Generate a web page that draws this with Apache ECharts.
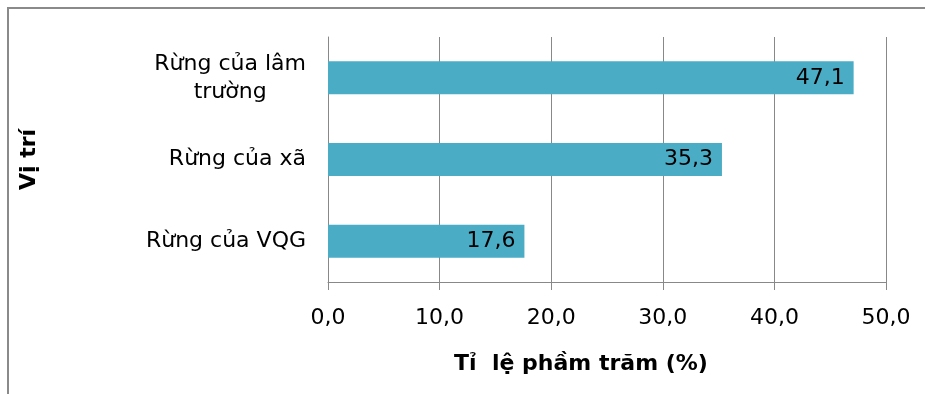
<!DOCTYPE html>
<html>
<head>
<meta charset="utf-8">
<script src="https://cdn.jsdelivr.net/npm/echarts@6/dist/echarts.min.js"></script>
<style>
  html, body { margin: 0; padding: 0; background: #fff; }
  #chart { width: 925px; height: 394px; }
</style>
</head>
<body>
<div id="chart"></div>
<script>
// Forest locations (top to bottom) and their share in percent
const categories = ['Rừng của lâm\ntrường', 'Rừng của xã', 'Rừng của VQG'];
const values = [47.1, 35.3, 17.6];
const xTicks = { min: 0, max: 50, interval: 10 };

const FONT = '"DejaVu Sans", Verdana, sans-serif';
const SIZE = 22;
const GRID = '#888888';

const fmtComma = (v, d) => Number(v).toFixed(d).replace('.', ',');

const chart = echarts.init(document.getElementById('chart'), null, { renderer: 'canvas' });

chart.setOption({
  animation: false,
  backgroundColor: '#ffffff',
  textStyle: { fontFamily: FONT },
  graphic: [{
    type: 'rect',
    shape: { x: 8, y: 8, width: 1000, height: 500 },
    style: { fill: 'none', stroke: '#8a8a8a', lineWidth: 2 },
    silent: true,
    z: -1
  }],
  grid: { left: 328, right: 39, top: 37, bottom: 112, containLabel: false },
  xAxis: {
    type: 'value',
    min: xTicks.min,
    max: xTicks.max,
    interval: xTicks.interval,
    name: 'Tỉ  lệ phầm trăm (%)',
    nameLocation: 'middle',
    nameGap: 71,
    nameTextStyle: {
      fontFamily: FONT, fontSize: SIZE, fontWeight: 'bold', color: '#000',
      padding: [0, 52, 0, 0]
    },
    axisLine: { show: true, lineStyle: { color: GRID, width: 1 } },
    axisTick: { show: true, length: 8, lineStyle: { color: GRID, width: 1 } },
    splitLine: { show: true, lineStyle: { color: GRID, width: 1 } },
    axisLabel: {
      fontFamily: FONT, fontSize: SIZE, color: '#000', margin: 25,
      formatter: v => fmtComma(v, 1)
    }
  },
  yAxis: {
    type: 'category',
    data: categories,
    inverse: true,
    name: 'Vị trí',
    nameLocation: 'middle',
    nameGap: 288,
    nameRotate: 90,
    nameTextStyle: { fontFamily: FONT, fontSize: SIZE, fontWeight: 'bold', color: '#000' },
    axisLine: { show: true, lineStyle: { color: GRID, width: 1 } },
    axisTick: { show: false },
    axisLabel: {
      margin: 22,
      color: '#000',
      formatter: v => v.split('\n').map(s => '{c|' + s + '}').join('\n'),
      rich: {
        c: { fontFamily: FONT, fontSize: SIZE, color: '#000', align: 'center', lineHeight: 28 }
      }
    }
  },
  series: [{
    type: 'bar',
    data: values,
    barWidth: 33,
    itemStyle: { color: '#4BACC6' },
    label: {
      show: true,
      position: 'insideRight',
      distance: 9,
      fontFamily: FONT,
      fontSize: SIZE,
      color: '#000',
      formatter: p => fmtComma(p.value, 1)
    }
  }]
});
</script>
</body>
</html>
